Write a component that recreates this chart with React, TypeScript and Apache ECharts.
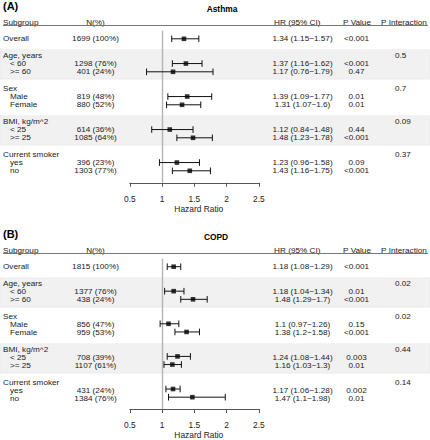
import React, { useEffect, useRef } from 'react';
import * as echarts from 'echarts';

// ---------- data ----------
const overallLabel = 'Overall';
const groupNames = ['Age, years', 'Sex', 'BMI, kg/m^2', 'Current smoker'];
const groupLevels = [
  ['< 60', '>= 60'],
  ['Male', 'Female'],
  ['< 25', '>= 25'],
  ['yes', 'no'],
];
const headerLabels = ['Subgroup', 'N(%)', 'HR (95% CI)', 'P Value', 'P Interaction'];
const axisTicks = [0.5, 1, 1.5, 2, 2.5];

const asthmaCount = [1699, 1298, 401, 819, 880, 614, 1085, 396, 1303];
const asthmaPct = [100, 76, 24, 48, 52, 36, 64, 23, 77];
const asthmaHR = [1.34, 1.37, 1.17, 1.39, 1.31, 1.12, 1.48, 1.23, 1.43];
const asthmaLow = [1.15, 1.16, 0.76, 1.09, 1.07, 0.84, 1.23, 0.96, 1.16];
const asthmaHigh = [1.57, 1.62, 1.79, 1.77, 1.6, 1.48, 1.78, 1.58, 1.75];
const asthmaP = ['<0.001', '<0.001', '0.47', '0.01', '0.01', '0.44', '<0.001', '0.09', '<0.001'];
const asthmaPInt = ['0.5', '0.7', '0.09', '0.37'];

const copdCount = [1815, 1377, 438, 856, 959, 708, 1107, 431, 1384];
const copdPct = [100, 76, 24, 47, 53, 39, 61, 24, 76];
const copdHR = [1.18, 1.18, 1.48, 1.1, 1.38, 1.24, 1.16, 1.17, 1.47];
const copdLow = [1.08, 1.04, 1.29, 0.97, 1.2, 1.08, 1.03, 1.06, 1.1];
const copdHigh = [1.29, 1.34, 1.7, 1.26, 1.58, 1.44, 1.3, 1.28, 1.98];
const copdP = ['<0.001', '0.01', '<0.001', '0.15', '<0.001', '0.003', '0.01', '0.002', '0.01'];
const copdPInt = ['0.02', '0.02', '0.44', '0.14'];

// ---------- layout ----------
const FONT = "'Liberation Sans', Arial, Helvetica, sans-serif";
const FS = 8.4;        // axis text size
const TFS = 7.3;       // table text size (rows are tightly packed)
const TSX = 1.12;      // horizontal scale for table text to keep the reference widths
const ROW_H = 8.25;
const TEXT = '#1a1a1a';

const panels = [
  {
    tag: '(A)', title: 'Asthma', titleX: 222, y0: 38.8,
    count: asthmaCount, pct: asthmaPct, hr: asthmaHR, low: asthmaLow, high: asthmaHigh, p: asthmaP, pInt: asthmaPInt,
  },
  {
    tag: '(B)', title: 'COPD', titleX: 216, y0: 266.8,
    count: copdCount, pct: copdPct, hr: copdHR, low: copdLow, high: copdHigh, p: copdP, pInt: copdPInt,
  },
];

const fmt = (v: number) => String(v);

function rowOf(k: number) {
  if (k === 0) return 0;
  const g = Math.floor((k - 1) / 2);
  const i = (k - 1) % 2;
  return 2 + 4 * g + 1 + i;
}

type TextItem = { x: number; r: number; text: string; align: string };

function buildTexts(pn: any): TextItem[] {
  const items: TextItem[] = [];
  const hr = -1.97;
  items.push({ x: 3, r: hr, text: headerLabels[0], align: 'left' });
  items.push({ x: 95.5, r: hr, text: headerLabels[1], align: 'center' });
  items.push({ x: 297.3, r: hr, text: headerLabels[2], align: 'center' });
  items.push({ x: 357, r: hr, text: headerLabels[3], align: 'center' });
  items.push({ x: 404, r: hr, text: headerLabels[4], align: 'center' });
  items.push({ x: 3, r: 0, text: overallLabel, align: 'left' });
  groupNames.forEach((g, gi) => {
    items.push({ x: 3, r: 2 + 4 * gi, text: g, align: 'left' });
    items.push({ x: 395, r: 2 + 4 * gi, text: pn.pInt[gi], align: 'left' });
    groupLevels[gi].forEach((lv, li) => {
      items.push({ x: 10, r: 2 + 4 * gi + 1 + li, text: lv, align: 'left' });
    });
  });
  pn.hr.forEach((h: number, k: number) => {
    const r = rowOf(k);
    items.push({ x: 95.5, r, text: `${pn.count[k]} (${pn.pct[k]}%)`, align: 'center' });
    items.push({ x: 302.5, r, text: `${fmt(h)} (${fmt(pn.low[k])}\u2212${fmt(pn.high[k])})`, align: 'center' });
    items.push({ x: 356.5, r, text: pn.p[k], align: 'center' });
  });
  return items;
}

function buildOption() {
  const grid: any[] = [];
  const xAxis: any[] = [];
  const yAxis: any[] = [];
  const series: any[] = [];
  const graphic: any[] = [];

  panels.forEach((pn, p) => {
    const tIdx = 2 * p;
    const fIdx = 2 * p + 1;
    const tMin = -3;
    const fMin = -1;
    const yMax = 17.45;
    grid.push({ left: 0, width: 430, top: pn.y0 + tMin * ROW_H, height: (yMax - tMin) * ROW_H });
    grid.push({ left: 129.8, width: 129, top: pn.y0 + fMin * ROW_H, height: (yMax - fMin) * ROW_H });

    xAxis.push({ gridIndex: tIdx, type: 'value', min: 0, max: 430, show: false });
    xAxis.push({
      gridIndex: fIdx, type: 'value', min: axisTicks[0], max: axisTicks[axisTicks.length - 1], interval: 0.5,
      position: 'bottom',
      axisLine: { show: true, onZero: false, lineStyle: { color: '#555', width: 1 } },
      axisTick: { show: true, length: 4, lineStyle: { color: '#555', width: 1 } },
      axisLabel: { fontSize: FS, color: '#222', fontFamily: FONT, margin: 12, showMinLabel: true, showMaxLabel: true },
      splitLine: { show: false },
      name: 'Hazard Ratio', nameLocation: 'middle', nameGap: 22,
      nameTextStyle: { fontSize: FS, color: '#222', fontFamily: FONT, padding: [0, 0, 0, 9] },
    });
    yAxis.push({ gridIndex: tIdx, type: 'value', min: tMin, max: yMax, inverse: true, show: false });
    yAxis.push({ gridIndex: fIdx, type: 'value', min: fMin, max: yMax, inverse: true, show: false });

    // shaded group bands + header rule
    series.push({
      type: 'custom', xAxisIndex: tIdx, yAxisIndex: tIdx, silent: true, z: 0,
      data: [[0, 0]],
      renderItem: () => ({ type: 'group', children: [] }),
      markArea: {
        silent: true, z: 1,
        itemStyle: { color: '#f1f1f1', borderColor: '#e2e2e2', borderWidth: 0.8, borderType: 'dotted' },
        data: [
          [{ yAxis: 2 - 0.68 }, { yAxis: 4 + 0.9 }],
          [{ yAxis: 10 - 0.68 }, { yAxis: 12 + 0.9 }],
        ],
      },
      markLine: {
        silent: true, symbol: 'none', z: 5,
        lineStyle: { color: '#777', width: 1.1, type: 'solid' },
        label: { show: false },
        data: [[{ coord: [3, -1.65] }, { coord: [428, -1.65] }]],
      },
    });

    // table texts
    const texts = buildTexts(pn);
    series.push({
      type: 'custom', xAxisIndex: tIdx, yAxisIndex: tIdx, silent: true, z: 3,
      encode: { x: 0, y: 1 },
      data: texts.map((t) => [t.x, t.r]),
      renderItem: (params: any, api: any) => {
        const t = texts[params.dataIndex];
        const pt = api.coord([t.x, t.r]);
        return {
          type: 'text', x: pt[0], y: pt[1], scaleX: TSX,
          style: { text: t.text, align: t.align, verticalAlign: 'middle', fontSize: TFS, fontFamily: FONT, fill: TEXT },
        };
      },
    });

    // error bars
    series.push({
      type: 'custom', xAxisIndex: fIdx, yAxisIndex: fIdx, silent: true, z: 3,
      encode: { x: [0, 1], y: 2 },
      data: pn.hr.map((_: number, k: number) => [pn.low[k], pn.high[k], rowOf(k)]),
      renderItem: (params: any, api: any) => {
        const a = api.coord([api.value(0), api.value(2)]);
        const b = api.coord([api.value(1), api.value(2)]);
        const c = 3.3;
        const st = { stroke: '#111', lineWidth: 1 };
        return {
          type: 'group',
          children: [
            { type: 'line', shape: { x1: a[0], y1: a[1], x2: b[0], y2: b[1] }, style: st },
            { type: 'line', shape: { x1: a[0], y1: a[1] - c, x2: a[0], y2: a[1] + c }, style: st },
            { type: 'line', shape: { x1: b[0], y1: b[1] - c, x2: b[0], y2: b[1] + c }, style: st },
          ],
        };
      },
    });

    // point estimates + reference line
    series.push({
      type: 'scatter', xAxisIndex: fIdx, yAxisIndex: fIdx, silent: true, z: 4,
      symbol: 'rect', symbolSize: 4.6,
      itemStyle: { color: '#000' },
      data: pn.hr.map((h: number, k: number) => [h, rowOf(k)]),
      markLine: {
        silent: true, symbol: 'none', z: 1,
        lineStyle: { color: '#b4b4b4', width: 1.4, type: 'solid' },
        label: { show: false },
        data: [{ xAxis: 1 }],
      },
    });

    const off = p * 228;
    graphic.push({
      type: 'text', x: 3, y: 5.7 + off,
      style: { text: pn.tag, fontSize: 11, fontWeight: 'bold', fontFamily: FONT, fill: '#000', align: 'left', verticalAlign: 'middle' },
    });
    graphic.push({
      type: 'text', x: pn.titleX, y: 9.2 + off,
      style: { text: pn.title, fontSize: FS, fontWeight: 'bold', fontFamily: FONT, fill: '#000', align: 'center', verticalAlign: 'middle' },
    });
  });

  return {
    animation: false,
    backgroundColor: '#fff',
    grid, xAxis, yAxis, series, graphic,
  };
}

export default function App() {
  const ref = useRef<HTMLDivElement>(null);
  useEffect(() => {
    const chart = echarts.init(ref.current!, null, { renderer: 'svg' });
    chart.setOption(buildOption() as any);
    return () => chart.dispose();
  }, []);
  return <div ref={ref} style={{ position: 'absolute', left: 0, top: 0, width: 430, height: 440 }} />;
}
